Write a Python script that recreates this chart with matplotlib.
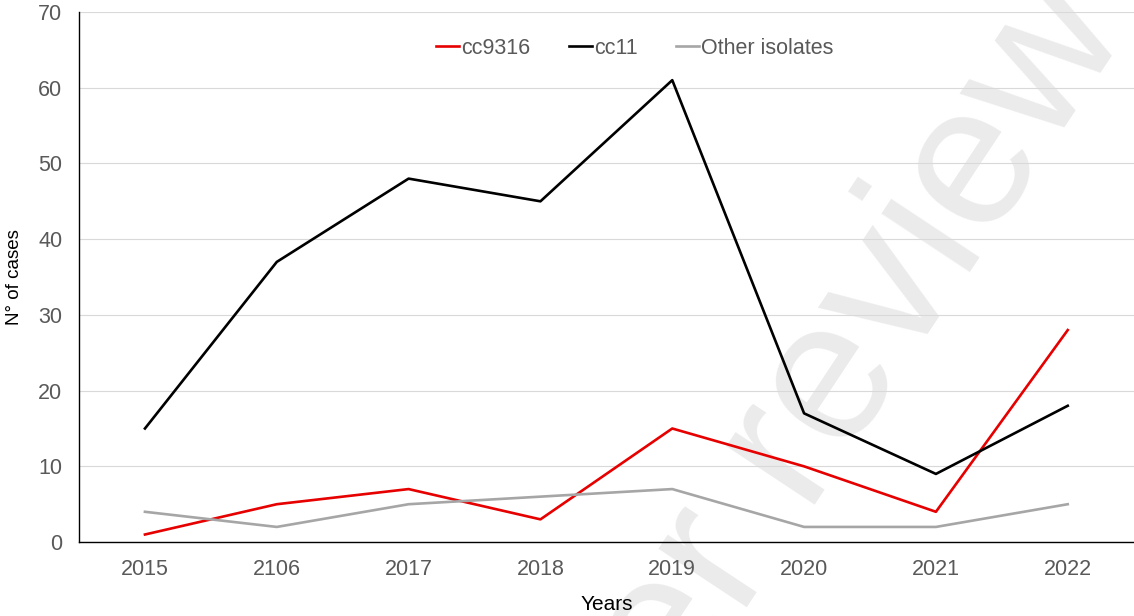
import matplotlib
matplotlib.use("Agg")
import matplotlib.pyplot as plt

plt.rcParams['font.family'] = ['Liberation Sans', 'DejaVu Sans']

# data
years = ["2015", "2106", "2017", "2018", "2019", "2020", "2021", "2022"]
cc9316 = [1, 5, 7, 3, 15, 10, 4, 28]
cc11 = [15, 37, 48, 45, 61, 17, 9, 18]
other = [4, 2, 5, 6, 7, 2, 2, 5]

fig = plt.figure(figsize=(11.34, 6.16), dpi=100)
ax = fig.add_axes([0.0697, 0.12, 0.93, 0.8605])
ax.patch.set_alpha(0)

x = list(range(len(years)))

# watermark, behind the axes
fig.text(0.737, 0.232, "Peer review", fontsize=145,
         color="#ebebeb", rotation=56.5, rotation_mode="anchor",
         ha="center", va="baseline", zorder=-1)

ax.plot(x, cc9316, color="#e60000", lw=1.9, label="cc9316", zorder=3)
ax.plot(x, cc11, color="black", lw=1.9, label="cc11", zorder=3)
ax.plot(x, other, color="#a6a6a6", lw=1.9, label="Other isolates", zorder=3)

ax.set_xlim(-0.5, 7.5)
ax.set_ylim(0, 70)
ax.set_yticks(range(0, 71, 10))
ax.set_xticks(x)
ax.set_xticklabels(years)
ax.grid(axis="y", color="#d9d9d9", lw=0.8)
ax.set_axisbelow(True)
for s in ["top", "right"]:
    ax.spines[s].set_visible(False)
ax.spines["left"].set_linewidth(1.0)
ax.spines["bottom"].set_linewidth(1.0)
ax.tick_params(axis="both", length=0, labelsize=15.5, labelcolor="#595959")
ax.tick_params(axis="x", pad=12)
ax.tick_params(axis="y", pad=12)

ax.set_ylabel("N° of cases", fontsize=13.5, color="black", labelpad=11)
ax.set_xlabel("Years", fontsize=15, color="black", labelpad=11)

leg = ax.legend(loc="center", bbox_to_anchor=(0.527, 0.932), ncol=3,
                frameon=False, fontsize=15.5, handlelength=1.05, handletextpad=0.1,
                columnspacing=1.8)
for t in leg.get_texts():
    t.set_color("#595959")

fig.savefig("out.png", dpi=100)
